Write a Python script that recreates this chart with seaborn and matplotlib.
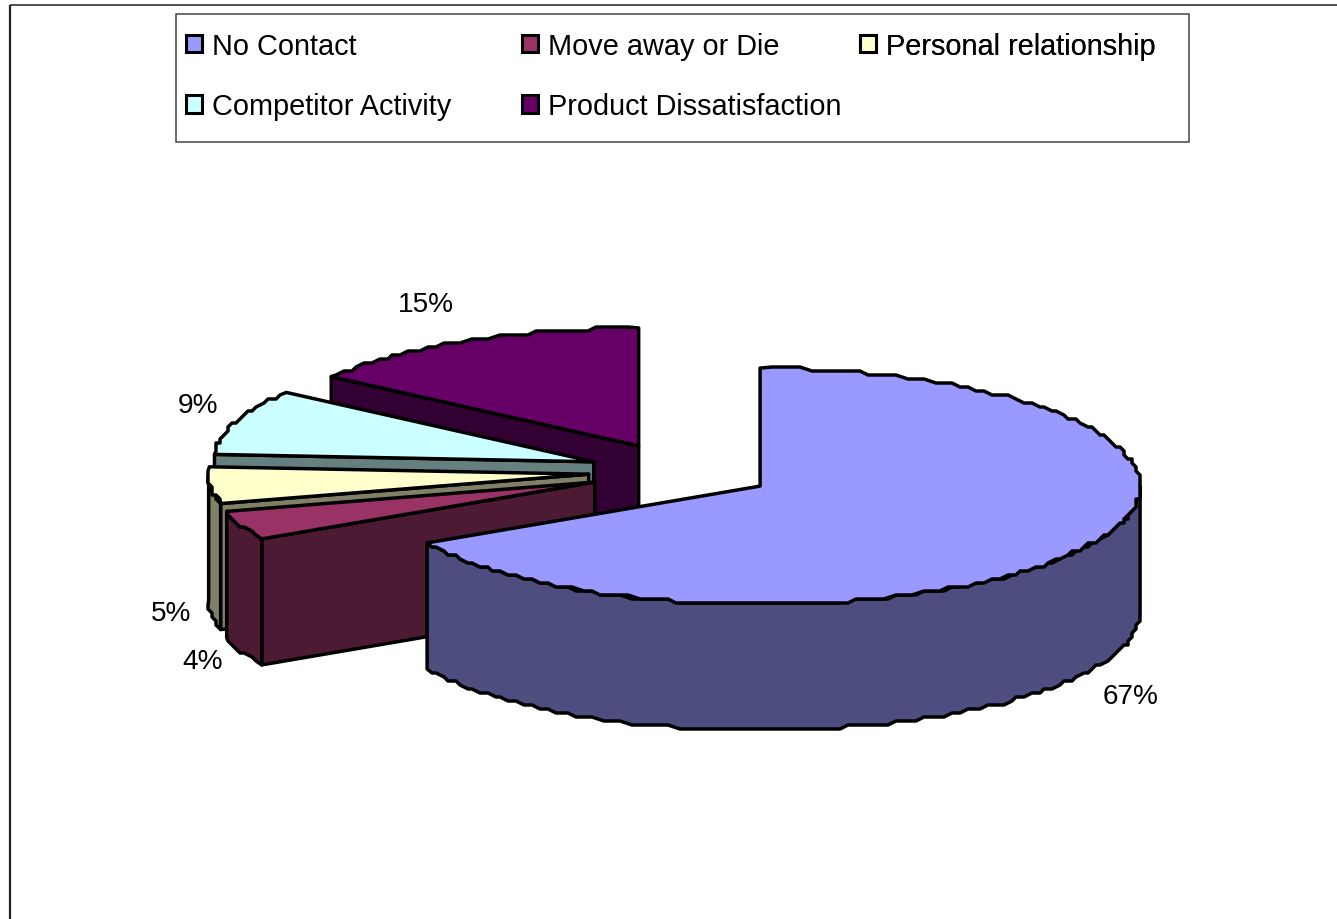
import numpy as np
import matplotlib
matplotlib.use("Agg")
import matplotlib.pyplot as plt
from matplotlib.patches import Polygon, Rectangle, Patch
import seaborn as sns

categories = ["No Contact", "Move away or Die", "Personal relationship",
              "Competitor Activity", "Product Dissatisfaction"]
values = [67, 4, 5, 9, 15]
top_colors = ["#9999FF", "#993366", "#FFFFCC", "#CCFFFF", "#660066"]
value_labels = ["67%", "4%", "5%", "9%", "15%"]

sns.set_theme(style="white")
plt.rcParams["font.family"] = ["Liberation Sans", "DejaVu Sans"]
legend_size, label_size = 20.8, 20.2
palette = sns.color_palette(top_colors)

W, H = 1337, 920
fig = plt.figure(figsize=(W / 100, H / 100), dpi=100, facecolor="white")
ax = fig.add_axes([0, 0, 1, 1])
ax.set_xlim(0, W)
ax.set_ylim(H, 0)
ax.set_axis_off()

# 3-D pie geometry
cx, cy = 680.6, 472.5
rx, ry = 380.0, 118.0
depth = 126.0
explode = 0.243
lw = 2.5
grid = 4.0

fractions = np.array(values, float) / sum(values)
ends = np.cumsum(fractions) * 360.0
starts = ends - fractions * 360.0


def rim(apex, a0, a1, jag=True):
    n = max(int(abs(a1 - a0) / 1.5), 2)
    t = np.radians(np.linspace(a0, a1, n))
    pts = np.column_stack([apex[0] + rx * np.sin(t), apex[1] - ry * np.cos(t)])
    if jag and len(pts) > 2:
        pts[1:-1] = np.round(pts[1:-1] / grid) * grid
    return pts


def draw(pts, color, z):
    ax.add_patch(Polygon(pts, closed=True, facecolor=color, edgecolor="black",
                         linewidth=lw, joinstyle="round", zorder=z))


z = 2
for i in [4, 3, 2, 1, 0]:
    s, e = starts[i], ends[i]
    mid = np.radians((s + e) / 2)
    apex = np.array([cx + explode * rx * np.sin(mid), cy - explode * ry * np.cos(mid)])
    top = np.array(palette[i])
    side = tuple(top * 0.5)
    down = np.array([0, depth])
    # radial cut faces that look toward the viewer
    for ang, vis in ((s, np.sin(np.radians(s)) < -1e-6), (e, np.sin(np.radians(e)) > 1e-6)):
        if vis:
            p = rim(apex, ang, ang + 0.001, jag=False)[0]
            draw([apex, p, p + down, apex + down], side, z)
            z += 1
    # outer wall (front half of the rim only)
    a0, a1 = max(s, 90.0), min(e, 270.0)
    if a1 > a0:
        arc = rim(apex, a0, a1)
        draw(np.vstack([arc, (arc + down)[::-1]]), side, z)
        z += 1
    # top face
    draw(np.vstack([[apex], rim(apex, s, e)]), tuple(top), z)
    z += 1

# data labels
label_pos = [(1131, 697), (203, 662), (171, 614), (198, 406), (426, 305)]
for txt, (x, y) in zip(value_labels, label_pos):
    ax.text(x, y, txt, fontsize=label_size, ha="center", va="center", color="black", zorder=50)

# chart border (open at right and bottom, as cropped)
ax.plot([10, 10], [H, 5.5], color="#222222", lw=1.6, zorder=1, solid_capstyle="butt")
ax.plot([10, 1337], [5.5, 5.5], color="#222222", lw=1.1, zorder=1, solid_capstyle="butt")

# legend frame and evenly spaced legend columns
ax.add_patch(Rectangle((175.5, 14.5), 1013, 128, facecolor="white", edgecolor="#444444",
                       linewidth=1.1, zorder=40))
columns = [([0, 3], 186), ([1, 4], 522), ([2], 860)]
for idx, x0 in columns:
    handles = [Patch(facecolor=palette[j], edgecolor="black", linewidth=2.2) for j in idx]
    labels = [categories[j] for j in idx]
    leg = ax.legend(handles, labels, loc="upper left", bbox_to_anchor=(x0, 33),
                    bbox_transform=ax.transData, frameon=False, fontsize=legend_size,
                    borderpad=0, borderaxespad=0, handlelength=0.55, handleheight=0.55,
                    handletextpad=0.35, labelspacing=1.12, ncols=1, labelcolor="black")
    leg.set_zorder(45)
    ax.add_artist(leg)

fig.savefig("out.png", dpi=100, facecolor="white")
